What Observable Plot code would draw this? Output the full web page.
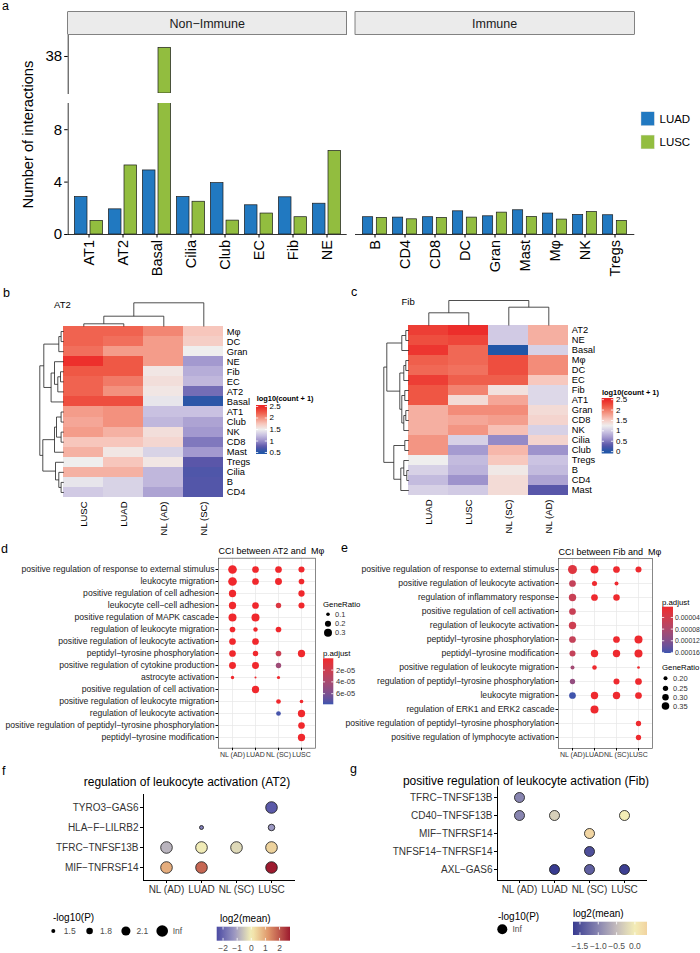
<!DOCTYPE html>
<html><head><meta charset="utf-8">
<script src="https://cdn.jsdelivr.net/npm/d3@7"></script>
<script src="https://cdn.jsdelivr.net/npm/@observablehq/plot@0.6"></script>
<style>
body{margin:0;background:#fff;}
#fig{position:relative;width:700px;height:953px;overflow:hidden;background:#fff;}
#fig svg text{white-space:pre;}
</style></head><body><div id="fig"></div>
<script>
// ---------------- panel a data ----------------
const nonImmuneCells = ["AT1","AT2","Basal","Cilia","Club","EC","Fib","NE"];
const immuneCells = ["B","CD4","CD8","DC","Gran","Mast","Mφ","NK","Tregs"];
const cancerTypes = ["LUAD","LUSC"];
const typeColors = ["#2179c1","#92bd3f"];
const nonImmuneLUAD = [2.86,1.92,4.89,2.86,3.92,2.23,2.84,2.35];
const nonImmuneLUSC = [1.04,5.27,38.7,2.5,1.06,1.6,1.32,6.38];
const immuneLUAD = [1.32,1.29,1.32,1.77,1.39,1.85,1.6,1.49,1.47];
const immuneLUSC = [1.27,1.16,1.27,1.29,1.67,1.34,1.14,1.72,1.04];
const yTicksA = [0,4,8,38];
const lowerDomainA = [0,10];
const upperDomainA = [35,39.7];

// ---------------- panel b data (AT2) ----------------
const bCols = ["LUSC","LUAD","NL (AD)","NL (SC)"];
const bRows = ["Mφ","DC","Gran","NE","Fib","EC","AT2","Basal","AT1","Club","NK","CD8","Mast","Tregs","Cilia","B","CD4"];
const bLUSC = [2.2,2.2,2.15,2.45,2.25,2.2,2.2,2.3,1.95,1.9,1.95,1.75,1.85,1.5,1.85,1.45,1.3];
const bLUAD = [2.2,2.15,1.95,2.25,2.25,2.1,2.0,2.3,2.0,2.0,1.85,1.75,1.55,1.75,1.85,1.35,1.35];
const bNLAD = [2.05,1.95,1.95,1.95,1.55,1.6,1.55,1.45,1.25,1.2,1.6,1.65,1.35,1.55,1.2,1.2,1.1];
const bNLSC = [1.75,1.7,1.5,1.05,1.15,1.2,0.85,0.55,1.25,1.1,1.05,0.9,1.05,0.75,0.7,0.72,0.72];
const bRowTree = [
  [[["Mφ","DC",2.7],"Gran",5],[["NE",[["Fib","EC",3.3],"AT2",6],9.3],"Basal",12.7],20],
  [[[["AT1","Club",2.7],["NK","CD8",2.7],7.3],"Mast",9.3],["Tregs",["Cilia",["B","CD4",2.7],5],8.3],21],
  24];
const bColTree = [[["LUSC","LUAD",2.7],"NL (AD)",10.3],"NL (SC)",23.7];
const bLegendTicks = [0.5,1,1.5,2,2.5];

// ---------------- panel c data (Fib) ----------------
const cCols = ["LUAD","LUSC","NL (SC)","NL (AD)"];
const cRows = ["AT2","NE","Basal","Mφ","DC","EC","Fib","AT1","Gran","CD8","NK","Cilia","Club","Tregs","B","CD4","Mast"];
const cLUAD = [2.35,2.25,2.4,2.15,2.1,2.35,2.2,2.2,1.7,1.7,1.7,1.85,1.85,1.25,1.05,0.9,1.05];
const cLUSC = [2.45,2.3,2.1,2.1,2.05,2.15,1.95,1.4,1.9,1.75,1.85,1.05,0.7,0.9,0.85,0.65,1.0];
const cNLSC = [1.0,1.0,0.0,2.25,2.25,2.15,1.35,1.75,1.9,1.8,1.6,0.6,1.65,1.55,1.3,1.4,1.4];
const cNLAD = [1.7,1.7,1.05,1.9,1.9,1.55,1.1,1.1,1.4,1.45,1.05,1.45,0.65,0.95,0.9,0.75,0.3];
const cRowTree = [
  [[["AT2","NE",3],"Basal",7],[[["Mφ","DC",3],"EC",5],[["Fib","AT1",4],[["Gran","CD8",3],"NK",5],7],9],22],
  [["Cilia","Club",4],[["Tregs",["B","CD4",2],5],"Mast",8],15],
  25];
const cColTree = [["LUAD","LUSC",12.7],["NL (SC)","NL (AD)",18.3],25];
const cLegendTicks = [0,0.5,1,1.5,2,2.5];

// ---------------- panels d / e data ----------------
const enrichGroups = ["NL (AD)","LUAD","NL (SC)","LUSC"];
const dTerms = [
  "positive regulation of response to external stimulus","leukocyte migration",
  "positive regulation of cell adhesion","leukocyte cell−cell adhesion",
  "positive regulation of MAPK cascade","regulation of leukocyte migration",
  "positive regulation of leukocyte activation","peptidyl−tyrosine phosphorylation",
  "positive regulation of cytokine production","astrocyte activation",
  "positive regulation of cell activation","positive regulation of leukocyte migration",
  "regulation of leukocyte activation","positive regulation of peptidyl−tyrosine phosphorylation",
  "peptidyl−tyrosine modification"];
const dTermIdx = [0,0,0,0, 1,1,1,1, 2,2, 3,3,3,3, 4,4, 5,5,5, 6,6, 7,7,7,7, 8,8,8, 9,9,9, 10, 11,11, 12,12, 13, 14];
const dGroup = ["NL (AD)","LUAD","NL (SC)","LUSC", "NL (AD)","LUAD","NL (SC)","LUSC", "NL (AD)","LUSC",
  "NL (AD)","LUAD","NL (SC)","LUSC", "NL (AD)","LUAD", "NL (AD)","LUAD","NL (SC)", "NL (AD)","LUAD",
  "NL (AD)","LUAD","NL (SC)","LUSC", "NL (AD)","LUAD","NL (SC)", "NL (AD)","LUAD","NL (SC)", "LUAD",
  "NL (SC)","LUSC", "NL (SC)","LUSC", "LUSC", "LUSC"];
const dGeneRatio = [0.34,0.23,0.23,0.2, 0.34,0.23,0.24,0.18, 0.26,0.21, 0.26,0.23,0.17,0.2, 0.3,0.3,
  0.18,0.13,0.18, 0.23,0.23, 0.23,0.17,0.18,0.26, 0.24,0.24,0.17, 0.09,0.055,0.085, 0.26,
  0.14,0.1, 0.14,0.26, 0.23, 0.26];
const dPadj = [1e-7,1e-7,1e-7,1e-7, 1e-7,1e-7,1e-7,1e-7, 1e-7,1e-7, 1e-7,1e-7,1.2e-5,1e-7, 1e-7,1e-7,
  1e-7,1e-7,1e-7, 1e-7,1e-7, 1e-7,1e-7,2.2e-5,1e-7, 1e-7,1e-7,4.5e-5, 1e-7,1e-7,1e-7, 1e-7,
  1e-7,1e-7, 7.6e-5,1e-7, 1e-7, 1e-7];
const dSizeTicks = [0.1,0.2,0.3];
const dColorTicks = [2e-5,4e-5,6e-5];
const dColorLabels = ["2e-05","4e-05","6e-05"];

const eTerms = [
  "positive regulation of response to external stimulus","positive regulation of leukocyte activation",
  "regulation of inflammatory response","positive regulation of cell activation",
  "regulation of leukocyte activation","peptidyl−tyrosine phosphorylation",
  "peptidyl−tyrosine modification","positive regulation of leukocyte migration",
  "regulation of peptidyl−tyrosine phosphorylation","leukocyte migration",
  "regulation of ERK1 and ERK2 cascade","positive regulation of peptidyl−tyrosine phosphorylation",
  "positive regulation of lymphocyte activation"];
const eTermIdx = [0,0,0,0, 1,1,1, 2,2,2, 3, 4, 5,5,5, 6,6,6,6, 7,7,7, 8,8,8, 9,9,9,9, 10, 11, 12];
const eGroup = ["NL (AD)","LUAD","NL (SC)","LUSC", "NL (AD)","LUAD","NL (SC)", "NL (AD)","LUAD","NL (SC)",
  "NL (AD)", "NL (AD)", "NL (AD)","NL (SC)","LUSC", "NL (AD)","LUAD","NL (SC)","LUSC",
  "NL (AD)","LUAD","LUSC", "NL (AD)","NL (SC)","LUSC", "NL (AD)","LUAD","NL (SC)","LUSC", "LUAD", "LUSC", "LUSC"];
const eGeneRatio = [0.42,0.37,0.31,0.28, 0.31,0.24,0.2, 0.34,0.31,0.3, 0.31, 0.34, 0.31,0.31,0.37,
  0.28,0.34,0.34,0.37, 0.2,0.22,0.155, 0.25,0.28,0.31, 0.31,0.34,0.34,0.31, 0.37, 0.25, 0.25];
const ePadj = [2.5e-5,5e-6,5e-6,5e-6, 5.5e-5,5e-6,5e-6, 5e-5,5e-6,5e-6, 5e-5, 4.5e-5, 5.5e-5,5e-6,5e-6,
  5.5e-5,5e-6,5e-6,5e-6, 9e-5,5e-6,5e-6, 1.05e-4,5e-6,5e-6, 1.6e-4,5e-6,5e-6,5e-6, 5e-6, 5e-6, 5e-6];
const eSizeTicks = [0.2,0.25,0.3,0.35];
const eColorTicks = [4e-5,8e-5,1.2e-4,1.6e-4];
const eColorLabels = ["0.00004","0.00008","0.00012","0.00016"];

// ---------------- panels f / g data ----------------
const lrGroups = ["NL (AD)","LUAD","NL (SC)","LUSC"];
const pLevels = ["1.5","1.8","2.1","Inf"];
const fPairs = ["TYRO3−GAS6","HLA−F−LILRB2","TFRC−TNFSF13B","MIF−TNFRSF14"];
const fDotPair = ["TYRO3−GAS6","HLA−F−LILRB2","HLA−F−LILRB2","TFRC−TNFSF13B","TFRC−TNFSF13B","TFRC−TNFSF13B","TFRC−TNFSF13B","MIF−TNFRSF14","MIF−TNFRSF14","MIF−TNFRSF14"];
const fDotGroup = ["LUSC","LUAD","LUSC","NL (AD)","LUAD","NL (SC)","LUSC","NL (AD)","LUAD","LUSC"];
const fDotLogP = ["Inf","1.5","1.8","Inf","Inf","Inf","Inf","Inf","Inf","Inf"];
const fDotMean = [-2.2,-1.6,-1.2,-0.8,-0.05,-0.3,0.4,0.9,1.8,2.74];
const fMeanTicks = [-2,-1,0,1,2];
const gPairs = ["TFRC−TNFSF13B","CD40−TNFSF13B","MIF−TNFRSF14","TNFSF14−TNFRSF14","AXL−GAS6"];
const gDotPair = ["TFRC−TNFSF13B","CD40−TNFSF13B","CD40−TNFSF13B","CD40−TNFSF13B","MIF−TNFRSF14","TNFSF14−TNFRSF14","AXL−GAS6","AXL−GAS6","AXL−GAS6"];
const gDotGroup = ["NL (AD)","NL (AD)","LUAD","LUSC","NL (SC)","NL (SC)","LUAD","NL (SC)","LUSC"];
const gDotLogP = ["Inf","Inf","Inf","Inf","Inf","Inf","Inf","Inf","Inf"];
const gDotMean = [-1.0,-1.0,-0.3,0.0,0.3,-1.5,-1.69,-1.35,-1.65];
const gMeanTicks = [-1.5,-1.0,-0.5,0.0];

// ================= drawing =================
const FONT = '"Liberation Sans", Arial, Helvetica, sans-serif';
const W = 700, H = 953;
const fig = document.getElementById("fig");
function base(fr){
  return {width:W, height:H, marginLeft:fr[0], marginTop:fr[1], marginRight:W-fr[2], marginBottom:H-fr[3],
    style:{fontFamily:FONT, background:"transparent", overflow:"visible"}};
}
function mount(p){
  p.style.position="absolute"; p.style.left="0px"; p.style.top="0px";
  p.style.background="transparent"; p.style.maxWidth="none";
  fig.appendChild(p); return p;
}

// ---- panel a (broken y axis: lower and upper sections) ----
function barPanel(cells, luad, lusc, x0, x1, showY){
  const data = cells.flatMap((c,i)=>[{cell:c,type:"LUAD",v:luad[i]},{cell:c,type:"LUSC",v:lusc[i]}]);
  const step = (x1-x0)/(cells.length+0.1), bw = step*0.9;
  const outer = 1.4, gap = 3, bar = (bw-gap-2*outer)/2;
  const ins = {LUAD:[outer, outer+bar+gap], LUSC:[outer+bar+gap, outer]};
  const common = {x:{domain:cells, padding:0.1, label:null}, color:{domain:cancerTypes, range:typeColors}};
  const lower = cancerTypes.map(t => Plot.barY(data.filter(d=>d.type===t),
    {x:"cell", y:"v", fill:"type", stroke:"#1b1b1b", strokeWidth:0.7, insetLeft:ins[t][0], insetRight:ins[t][1], clip:true}));
  if (showY) lower.push(Plot.frame({anchor:"left", stroke:"#000", strokeWidth:0.8}));
  lower.push(Plot.ruleY([0], {stroke:"#000", strokeWidth:0.8}));
  lower.push(Plot.axisX({tickRotate:-90, tickSize:3.5, tickPadding:2, fontSize:14.5, label:null}));
  if (showY) lower.push(Plot.axisY(yTicksA.filter(v=>v<=lowerDomainA[1]), {tickSize:3.5, tickPadding:2.5, fontSize:15, label:null}));
  mount(Plot.plot({...base([x0,103,x1,234]), ...common,
    y:{domain:lowerDomainA, label:null, ...(showY?{}:{axis:null})}, marks:lower}));
  const upData = data.filter(d=>d.v>upperDomainA[0]);
  const upper = cancerTypes.map(t => Plot.barY(upData.filter(d=>d.type===t),
    {x:"cell", y1:upperDomainA[0], y2:"v", fill:"type", stroke:"#1b1b1b", strokeWidth:0.7, insetLeft:ins[t][0], insetRight:ins[t][1], clip:true}));
  if (showY) {
    upper.push(Plot.frame({anchor:"left", stroke:"#000", strokeWidth:0.8}));
    upper.push(Plot.axisY(yTicksA.filter(v=>v>=upperDomainA[0]), {tickSize:3.5, tickPadding:2.5, fontSize:15, label:null}));
  }
  mount(Plot.plot({...base([x0,35,x1,93]), ...common,
    x:{...common.x, axis:null}, y:{domain:upperDomainA, label:null, ...(showY?{}:{axis:null})}, marks:upper}));
}
barPanel(nonImmuneCells, nonImmuneLUAD, nonImmuneLUSC, 67.7, 346.7, true);
barPanel(immuneCells, immuneLUAD, immuneLUSC, 355, 634.3, false);

// ---- heatmaps ----
function dendro(tree, leaves){
  const segs = [];
  (function walk(n){
    if (typeof n === "string") return {pos:leaves.indexOf(n)+0.5, h:0};
    const A = walk(n[0]), B = walk(n[1]), h = n[2];
    segs.push({p1:A.pos,h1:A.h,p2:A.pos,h2:h},{p1:B.pos,h1:B.h,p2:B.pos,h2:h},{p1:A.pos,h1:h,p2:B.pos,h2:h});
    return {pos:(A.pos+B.pos)/2, h};
  })(tree);
  return segs;
}
const heatStops = ["#2156a7","#5a56a9","#9a8fca","#c9c1e1","#efeeee","#f7c6bc","#f3917e","#ef5845","#ec2626"];
function heatColor(lo, hi){
  return {type:"linear", domain:heatStops.map((_,k)=>lo+(hi-lo)*k/(heatStops.length-1)), range:heatStops};
}
function heatmap(rows, cols, valsByCol, fr, color, rowTree, colTree){
  const nr = rows.length, nc = cols.length;
  const cells = cols.flatMap((c,j)=>rows.map((r,i)=>({i,j,v:valsByCol[j][i]})));
  const pxX = (fr[2]-fr[0])/nc, pxY = (fr[3]-fr[1])/nr;
  const rs = dendro(rowTree, rows), cs = dendro(colTree, cols);
  return Plot.plot({...base(fr),
    x:{domain:[0,nc], axis:null}, y:{domain:[0,nr], reverse:true, axis:null}, color,
    marks:[
      Plot.rect(cells, {x1:"j", x2:d=>d.j+1, y1:"i", y2:d=>d.i+1, fill:"v", shapeRendering:"crispEdges"}),
      Plot.link(rs, {x1:d=>-d.h1/pxX, x2:d=>-d.h2/pxX, y1:"p1", y2:"p2", stroke:"#222", strokeWidth:0.8}),
      Plot.link(cs, {y1:d=>-d.h1/pxY, y2:d=>-d.h2/pxY, x1:"p1", x2:"p2", stroke:"#222", strokeWidth:0.8}),
      Plot.text(rows, {x:nc, y:(d,i)=>i+0.5, text:d=>d, textAnchor:"start", dx:3, fontSize:9.3}),
      Plot.text(cols, {x:(d,i)=>i+0.5, y:nr, text:d=>d, rotate:-90, textAnchor:"end", dy:4, fontSize:9.5})
    ]});
}
const plotB = mount(heatmap(bRows, bCols, [bLUSC,bLUAD,bNLAD,bNLSC], [63.3,326,223.3,497], heatColor(0.5,2.5), bRowTree, bColTree));
const plotC = mount(heatmap(cRows, cCols, [cLUAD,cLUSC,cNLSC,cNLAD], [408.3,325,568.3,495], heatColor(0,2.5), cRowTree, cColTree));

// ---- enrichment dot plots ----
function enrich(terms, idx, grp, gr, padj, fr, rCfg, colorCfg, title){
  const data = idx.map((t,k)=>({term:terms[t], group:grp[k], gr:gr[k], p:padj[k]}));
  return Plot.plot({...base(fr),
    x:{type:"point", domain:enrichGroups, padding:0.6, label:null},
    y:{type:"point", domain:terms, padding:0.6, label:null},
    r:rCfg, color:colorCfg,
    marks:[
      Plot.gridX({stroke:"#e6e6e6", strokeOpacity:1, strokeWidth:0.7}),
      Plot.gridY({stroke:"#e6e6e6", strokeOpacity:1, strokeWidth:0.7}),
      Plot.frame({stroke:"#555", strokeWidth:0.7}),
      Plot.dot(data, {x:"group", y:"term", r:"gr", fill:"p"}),
      Plot.axisX({tickSize:2.5, tickPadding:1.5, fontSize:7.0, label:null, fill:"#333"}),
      Plot.axisY({tickSize:2.5, tickPadding:1.5, fontSize:8.6, label:null, fill:"#222"}),
      Plot.text([title], {frameAnchor:"top-left", textAnchor:"start", lineAnchor:"bottom", dy:-4, fontSize:9})
    ]});
}
const padjColors = ["#f0282d","#3b54ae"];
const plotD = mount(enrich(dTerms, dTermIdx, dGroup, dGeneRatio, dPadj, [218,557.7,315,747.7],
  {type:"sqrt", domain:[0.1,0.3], range:[1.8,4.0]},
  {type:"linear", domain:[0,7.8e-5], range:padjColors, interpolate:"lab"}, "CCI between AT2 and  Mφ"));
const plotE = mount(enrich(eTerms, eTermIdx, eGroup, eGeneRatio, ePadj, [558,558,652,748],
  {type:"sqrt", domain:[0.2,0.35], range:[2.0,3.8]},
  {type:"linear", domain:[3e-6,1.62e-4], range:padjColors, interpolate:"lab"}, "CCI between Fib and  Mφ"));

// ---- ligand-receptor dot plots ----
function lrPlot(pairs, dp, dg, dl, dm, fr, rCfg, colorCfg, title, tdx, tdy){
  const data = dp.map((p,k)=>({pair:p, group:dg[k], lev:pLevels.indexOf(dl[k]), m:dm[k]}));
  return Plot.plot({...base(fr),
    x:{type:"point", domain:lrGroups, padding:0.6, label:null},
    y:{type:"point", domain:pairs, padding:0.6, label:null},
    r:rCfg, color:colorCfg,
    marks:[
      Plot.frame({anchor:"left", stroke:"#000", strokeWidth:1}),
      Plot.frame({anchor:"bottom", stroke:"#000", strokeWidth:1}),
      Plot.dot(data, {x:"group", y:"pair", r:"lev", fill:"m", stroke:"#111", strokeWidth:0.8}),
      Plot.axisX({tickSize:3, tickPadding:2, fontSize:10, label:null, fill:"#333"}),
      Plot.axisY({tickSize:3, tickPadding:2, fontSize:10, label:null, fill:"#333"}),
      Plot.text([title], {frameAnchor:"top", lineAnchor:"bottom", dx:tdx, dy:tdy, fontSize:12})
    ]});
}
const fStops = ["#4b4ba3","#9b97c2","#f4efb5","#e0976a","#9d1b2f"];
const plotF = mount(lrPlot(fPairs, fDotPair, fDotGroup, fDotLogP, fDotMean, [143,794,294,880],
  {type:"linear", domain:[0,3], range:[2,5.8]},
  {type:"linear", domain:[-2.45,-1.2,0,1.2,2.74], range:fStops},
  "regulation of leukocyte activation (AT2)", -32, -9));
const gStops = ["#383b90","#8885b0","#c4bcbc","#f4edb6","#f1d3a0"];
const plotG = mount(lrPlot(gPairs, gDotPair, gDotGroup, gDotLogP, gDotMean, [497,786.4,646,880],
  {type:"linear", domain:[0,3], range:[2,5]},
  {type:"linear", domain:[-1.69,-1.0,-0.5,0,0.33], range:gStops},
  "positive regulation of leukocyte activation (Fib)", -46, -2));

// ================= overlay: strips, legends, panel letters =================
const ov = d3.select(fig).append("svg").attr("width",W).attr("height",H)
  .style("position","absolute").style("left","0px").style("top","0px")
  .style("font-family",FONT).style("overflow","visible");
const defs = ov.append("defs");
function txt(x,y,s,o={}){
  const t = ov.append("text").attr("x",x).attr("y",y).text(s).attr("font-size",o.size||10).attr("fill",o.fill||"#000");
  if(o.anchor) t.attr("text-anchor",o.anchor);
  if(o.weight) t.attr("font-weight",o.weight);
  if(o.mid) t.attr("dominant-baseline","central");
  if(o.rotate) t.attr("transform",`rotate(${o.rotate},${x},${y})`);
  return t;
}
let gid = 0;
function gradient(scale, v0, v1, vertical, lo, hi){
  const id = "grad"+(gid++);
  const g = defs.append("linearGradient").attr("id",id).attr("x1",0).attr("y1",0)
    .attr("x2",vertical?0:1).attr("y2",vertical?1:0);
  for(let k=0;k<=24;k++){
    const v = Math.max(lo, Math.min(hi, v0+(v1-v0)*k/24));
    g.append("stop").attr("offset",k/24).attr("stop-color",scale.apply(v));
  }
  return `url(#${id})`;
}
function vbar(plot, x, w, y0, y1, vTop, vBot, ticks, labels, labX, size, fill){
  const s = plot.scale("color"); const dom = s.domain;
  const lo = Math.min(...dom), hi = Math.max(...dom);
  ov.append("rect").attr("x",x).attr("y",y0).attr("width",w).attr("height",y1-y0)
    .attr("fill",gradient(s, vTop, vBot, true, lo, hi));
  ticks.forEach((v,k)=>{
    const y = y0+(v-vTop)/(vBot-vTop)*(y1-y0);
    ov.append("line").attr("x1",x).attr("x2",x+w*0.2).attr("y1",y).attr("y2",y).attr("stroke","#fff").attr("stroke-width",0.8);
    ov.append("line").attr("x1",x+w*0.8).attr("x2",x+w).attr("y1",y).attr("y2",y).attr("stroke","#fff").attr("stroke-width",0.8);
    txt(labX, y, labels[k], {size, mid:true, fill:fill||"#000"});
  });
}
function hbar(plot, x0, x1, y, h, vL, vR, ticks, labels, labY, size){
  const s = plot.scale("color"); const dom = s.domain;
  const lo = Math.min(...dom), hi = Math.max(...dom);
  ov.append("rect").attr("x",x0).attr("y",y).attr("width",x1-x0).attr("height",h)
    .attr("fill",gradient(s, vL, vR, false, lo, hi));
  ticks.forEach((v,k)=>{
    const x = x0+(v-vL)/(vR-vL)*(x1-x0);
    ov.append("line").attr("x1",x).attr("x2",x).attr("y1",y).attr("y2",y+h*0.2).attr("stroke","#fff").attr("stroke-width",0.8);
    ov.append("line").attr("x1",x).attr("x2",x).attr("y1",y+h*0.8).attr("y2",y+h).attr("stroke","#fff").attr("stroke-width",0.8);
    txt(x, labY, labels[k], {size, anchor:"middle", mid:true, fill:"#4d4d4d"});
  });
}

// panel letters
[["a",2,9.5],["b",3,297],["c",351,296],["d",1,553],["e",341,552],["f",2,775],["g",350,773]]
  .forEach(([s,x,y])=>txt(x,y,s,{size:12.5}));

// panel a strips, y title, legend
[["Non−Immune",67.7,346.7],["Immune",355,634.3]].forEach(([s,x0,x1])=>{
  ov.append("rect").attr("x",x0).attr("y",11.7).attr("width",x1-x0).attr("height",22.6)
    .attr("fill","#ebebeb").attr("stroke","#333").attr("stroke-width",0.6);
  txt((x0+x1)/2, 27.8, s, {size:12.5, anchor:"middle", fill:"#1a1a1a"});
});
txt(27.5, 134.5, "Number of interactions", {size:14.7, anchor:"middle", mid:true, rotate:-90});
cancerTypes.forEach((t,k)=>{
  ov.append("rect").attr("x",641).attr("y",111.8+k*23.3).attr("width",13.3).attr("height",13.8)
    .attr("fill",typeColors[k]).attr("stroke","#d9d9d9").attr("stroke-width",0.4);
  txt(659.5, 118.7+k*23.3, t, {size:11.5, mid:true});
});

// heatmap titles & legends
txt(54, 307.5, "AT2", {size:9.5});
txt(401.5, 305, "Fib", {size:9.5});
txt(256.7, 401, "log10(count + 1)", {size:7.4, weight:"bold"});
vbar(plotB, 256, 11, 405, 454, 2.565, 0.435, bLegendTicks, bLegendTicks.map(String), 269.5, 8);
txt(602, 394.5, "log10(count + 1)", {size:7.4, weight:"bold"});
vbar(plotC, 601.7, 11.5, 398, 453.5, 2.58, -0.09, cLegendTicks, cLegendTicks.map(String), 616, 8);

// d legends
txt(323, 607, "GeneRatio", {size:7.8});
const rD = plotD.scale("r");
[614.3,623.7,632.7].forEach((y,k)=>{
  ov.append("circle").attr("cx",328).attr("cy",y).attr("r",rD.apply(dSizeTicks[k])).attr("fill","#000");
  txt(335, y, String(dSizeTicks[k]), {size:7.5, mid:true, fill:"#333"});
});
txt(323, 655.5, "p.adjust", {size:7.8});
vbar(plotD, 323, 10.3, 658.3, 704.3, 0, 7.8e-5, dColorTicks, dColorLabels, 336, 7.5, "#333");

// e legends
txt(662, 604.5, "p.adjust", {size:7.8});
vbar(plotE, 662, 11, 606.7, 653, 3e-6, 1.62e-4, eColorTicks, eColorLabels, 675, 6.9, "#333");
txt(662, 669.5, "GeneRatio", {size:7.8});
const rE = plotE.scale("r");
[678.3,688.3,697.3,706].forEach((y,k)=>{
  ov.append("circle").attr("cx",665.5).attr("cy",y).attr("r",rE.apply(eSizeTicks[k])).attr("fill","#000");
  txt(673, y, eSizeTicks[k].toFixed(2), {size:7.5, mid:true, fill:"#333"});
});

// f legends
txt(53, 920.5, "-log10(P)", {size:10});
const rF = plotF.scale("r");
pLevels.forEach((l,k)=>{
  const x = 53.3 + k*36.3;
  ov.append("circle").attr("cx",x).attr("cy",931).attr("r",rF.apply(k)).attr("fill","#000");
  txt(x+10.5, 931, l, {size:8.5, mid:true, fill:"#4d4d4d"});
});
txt(220, 921.5, "log2(mean)", {size:10});
hbar(plotF, 216.7, 290, 926.7, 14, -2.45, 2.74, fMeanTicks, fMeanTicks.map(v=>String(v).replace("-","−")), 948, 8.5);

// g legends
txt(498, 920, "-log10(P)", {size:10});
const rG = plotG.scale("r");
ov.append("circle").attr("cx",502.3).attr("cy",929.3).attr("r",rG.apply(pLevels.indexOf("Inf"))).attr("fill","#000");
txt(512.5, 929.3, "Inf", {size:8.5, mid:true, fill:"#4d4d4d"});
txt(573, 916.5, "log2(mean)", {size:10});
hbar(plotG, 573, 647, 921.7, 13.3, -1.69, 0.33, gMeanTicks, gMeanTicks.map(v=>v.toFixed(1).replace("-","−")), 946, 8.5);
</script></body></html>
